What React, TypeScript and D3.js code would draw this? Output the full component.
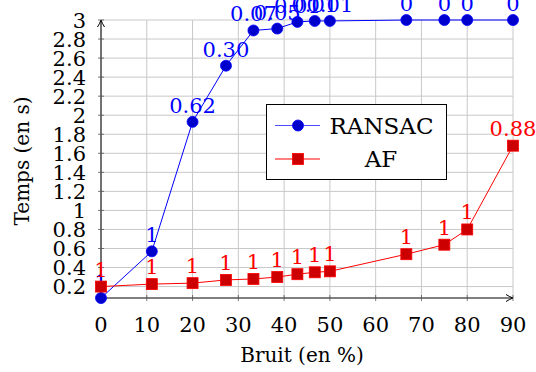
import React, { useEffect, useRef } from 'react';
import * as d3 from 'd3';

// noise levels (%)
const noise = [0, 11.1, 20, 27.3, 33.3, 38.5, 42.9, 46.7, 50, 66.7, 75, 80, 90];
const ransacTime = [0.08, 0.57, 1.93, 2.52, 2.89, 2.91, 2.98, 2.99, 2.99, 3.0, 3.0, 3.0, 3.0];
const ransacLabels = ['1', '1', '0.62', '0.30', '0.07', '0.05', '0.01', '0.01', '0.01', '0', '0', '0', '0'];
const afTime = [0.2, 0.226, 0.236, 0.27, 0.28, 0.3, 0.33, 0.35, 0.36, 0.54, 0.64, 0.8, 1.68];
const afLabels = ['1', '1', '1', '1', '1', '1', '1', '1', '1', '1', '1', '1', '0.88'];
const xTicks = [0, 10, 20, 30, 40, 50, 60, 70, 80, 90];
const yTicks = [0.2, 0.4, 0.6, 0.8, 1, 1.2, 1.4, 1.6, 1.8, 2, 2.2, 2.4, 2.6, 2.8, 3];

const FONT = "'DejaVu Serif', serif";

export default function App() {
    const ref = useRef<SVGSVGElement>(null);

    useEffect(() => {
        const svg = d3.select(ref.current);
        svg.selectAll('*').remove();

        const x = d3.scaleLinear().domain([0, 90]).range([101, 513]);
        const y = d3.scaleLinear().domain([0.08, 3]).range([298, 20]);

        // grid
        const grid = svg.append('g').attr('stroke', '#c8c8c8').attr('stroke-width', 1);
        xTicks.forEach(t => {
            grid.append('line').attr('x1', x(t)).attr('x2', x(t)).attr('y1', y(0.08)).attr('y2', y(3));
        });
        yTicks.forEach(t => {
            grid.append('line').attr('x1', x(0)).attr('x2', x(90)).attr('y1', y(t)).attr('y2', y(t));
        });

        // axes (middle style, with arrows)
        const axes = svg.append('g').attr('stroke', '#000').attr('fill', 'none').attr('stroke-width', 1);
        axes.append('line').attr('x1', x(0)).attr('x2', x(90)).attr('y1', y(0.08)).attr('y2', y(0.08));
        axes.append('line').attr('x1', x(0)).attr('x2', x(0)).attr('y1', y(0.08)).attr('y2', y(3));
        const xa = x(90), ya = y(0.08);
        axes.append('path').attr('d', `M${xa - 7},${ya - 3.5} Q${xa - 3},${ya - 1} ${xa},${ya} Q${xa - 3},${ya + 1} ${xa - 7},${ya + 3.5}`);
        const xb = x(0), yb = y(3);
        axes.append('path').attr('d', `M${xb - 3.5},${yb + 7} Q${xb - 1},${yb + 3} ${xb},${yb} Q${xb + 1},${yb + 3} ${xb + 3.5},${yb + 7}`);
        // tick marks
        const ticks = svg.append('g').attr('stroke', '#555').attr('stroke-width', 0.8);
        xTicks.forEach(t => {
            ticks.append('line').attr('x1', x(t)).attr('x2', x(t)).attr('y1', ya - 3).attr('y2', ya + 3);
        });
        yTicks.forEach(t => {
            ticks.append('line').attr('x1', xb - 3).attr('x2', xb + 3).attr('y1', y(t)).attr('y2', y(t));
        });

        // tick labels
        const tl = svg.append('g').style('font-family', FONT).style('font-size', '21px').attr('fill', '#000');
        xTicks.forEach(t => {
            tl.append('text').attr('x', x(t)).attr('y', 331.5).attr('text-anchor', 'middle').text(t);
        });
        yTicks.forEach(t => {
            tl.append('text').attr('x', 86).attr('y', y(t)).attr('dy', '0.36em').attr('text-anchor', 'end').text(t);
        });

        // axis titles
        svg.append('text').attr('x', 302).attr('y', 362).attr('text-anchor', 'middle')
            .style('font-family', FONT).style('font-size', '20px').text('Bruit (en %)');
        svg.append('text').attr('transform', 'translate(29,161) rotate(-90)').attr('text-anchor', 'middle')
            .style('font-family', FONT).style('font-size', '20px').text('Temps (en s)');

        const line = d3.line<number>().x((d, i) => x(noise[i])).y(d => y(d));

        // RANSAC
        svg.append('path').datum(ransacTime).attr('fill', 'none').attr('stroke', '#0000ff').attr('stroke-width', 1).attr('d', line);
        svg.append('g').selectAll('circle').data(ransacTime).enter().append('circle')
            .attr('cx', (d, i) => x(noise[i])).attr('cy', d => y(d)).attr('r', 5.5)
            .attr('fill', '#0000cc').attr('stroke', '#0000ff').attr('stroke-width', 0.8);
        svg.append('g').selectAll('text').data(ransacTime).enter().append('text')
            .attr('x', (d, i) => x(noise[i])).attr('y', d => y(d) - 9).attr('text-anchor', 'middle')
            .style('font-family', FONT).style('font-size', '21px').attr('fill', '#0000ff')
            .text((d, i) => ransacLabels[i]);

        // AF
        svg.append('path').datum(afTime).attr('fill', 'none').attr('stroke', '#ff0000').attr('stroke-width', 1).attr('d', line);
        svg.append('g').selectAll('rect').data(afTime).enter().append('rect')
            .attr('x', (d, i) => x(noise[i]) - 5.5).attr('y', d => y(d) - 5.5).attr('width', 11).attr('height', 11)
            .attr('fill', '#cc0000').attr('stroke', '#ff0000').attr('stroke-width', 0.8);
        svg.append('g').selectAll('text').data(afTime).enter().append('text')
            .attr('x', (d, i) => x(noise[i])).attr('y', d => y(d) - 10).attr('text-anchor', 'middle')
            .style('font-family', FONT).style('font-size', '21px').attr('fill', '#ff0000')
            .text((d, i) => afLabels[i]);

        // legend
        const lg = svg.append('g');
        lg.append('rect').attr('x', 266.5).attr('y', 104.5).attr('width', 180).attr('height', 75)
            .attr('fill', '#fff').attr('stroke', '#000').attr('stroke-width', 1);
        lg.append('line').attr('x1', 275).attr('x2', 320).attr('y1', 125.5).attr('y2', 125.5).attr('stroke', '#4d4dff');
        lg.append('circle').attr('cx', 298).attr('cy', 125.5).attr('r', 5.5).attr('fill', '#0000cc').attr('stroke', '#0000ff').attr('stroke-width', 0.8);
        lg.append('line').attr('x1', 275).attr('x2', 320).attr('y1', 159).attr('y2', 159).attr('stroke', '#ff0000');
        lg.append('rect').attr('x', 292.5).attr('y', 153.5).attr('width', 11).attr('height', 11).attr('fill', '#cc0000').attr('stroke', '#ff0000').attr('stroke-width', 0.8);
        lg.append('text').attr('x', 381.5).attr('y', 125.5).attr('dy', '0.36em').attr('text-anchor', 'middle')
            .style('font-family', FONT).style('font-size', '23px').text('RANSAC');
        lg.append('text').attr('x', 381).attr('y', 159).attr('dy', '0.36em').attr('text-anchor', 'middle')
            .style('font-family', FONT).style('font-size', '23px').text('AF');
    }, []);

    return (
        <svg ref={ref} width={536} height={372}
            style={{ position: 'absolute', left: 0, top: 0, background: '#fff' }} />
    );
}
